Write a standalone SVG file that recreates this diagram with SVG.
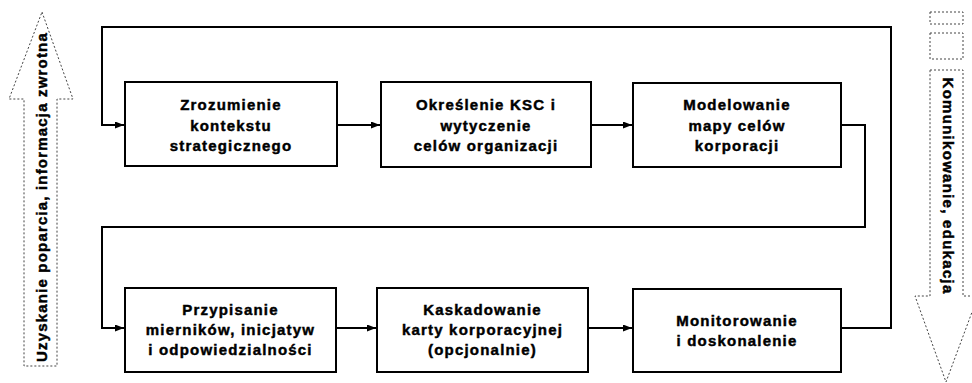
<svg xmlns="http://www.w3.org/2000/svg" width="972" height="383" viewBox="0 0 972 383">
  <defs>
    <style>
      .box { fill: #ffffff; stroke: #000000; stroke-width: 2; }
      .lbl { font-family: "Liberation Sans", Arial, sans-serif; font-weight: bold; font-size: 15px; letter-spacing: 1.2px; fill: #000000; stroke: #000000; stroke-width: 0.45; text-anchor: middle; }
      .conn { fill: none; stroke: #000000; stroke-width: 2; }
      .side { fill: none; stroke: #444444; stroke-width: 1; stroke-dasharray: 2 2; }
    </style>
    <marker id="arr" markerUnits="userSpaceOnUse" markerWidth="10" markerHeight="8" refX="9" refY="3.5" orient="auto">
      <path d="M0,0 L9,3.5 L0,7 z" fill="#000000"/>
    </marker>
  </defs>

  <rect width="972" height="383" fill="#ffffff"/>

  <!-- side arrows -->
  <g id="arrow-left">
    <polygon class="side" points="42,12 73,99 57,99 57,366 24,366 24,99 9,99"/>
    <text class="lbl" transform="translate(47,197) rotate(-90)" textLength="330" lengthAdjust="spacing">Uzyskanie poparcia, informacja zwrotna</text>
  </g>
  <g id="arrow-right">
    <rect class="side" x="930" y="12" width="33" height="12"/>
    <rect class="side" x="930" y="33" width="33" height="26"/>
    <polygon class="side" points="930,70 963,70 963,296 978,296 946,382 915,296 930,296"/>
    <text class="lbl" transform="translate(943,186) rotate(90)" textLength="217" lengthAdjust="spacing">Komunikowanie, edukacja</text>
  </g>

  <!-- connectors -->
  <g id="connectors">
    <path class="conn" d="M841,328 H891 V27 H102 V125 H124" marker-end="url(#arr)"/>
    <path class="conn" d="M337,125 H380" marker-end="url(#arr)"/>
    <path class="conn" d="M591,125 H632" marker-end="url(#arr)"/>
    <path class="conn" d="M841,125 H865 V227 H102 V328 H124" marker-end="url(#arr)"/>
    <path class="conn" d="M336,328 H376" marker-end="url(#arr)"/>
    <path class="conn" d="M588,328 H632" marker-end="url(#arr)"/>
  </g>

  <!-- nodes -->
  <g id="node1">
    <rect class="box" x="125" y="82" width="212" height="84"/>
    <text class="lbl" x="231" y="110">Zrozumienie</text>
    <text class="lbl" x="231" y="130.5">kontekstu</text>
    <text class="lbl" x="231" y="151">strategicznego</text>
  </g>
  <g id="node2">
    <rect class="box" x="381" y="82" width="210" height="85"/>
    <text class="lbl" x="486" y="110">Określenie KSC i</text>
    <text class="lbl" x="486" y="130.5">wytyczenie</text>
    <text class="lbl" x="486" y="151">celów organizacji</text>
  </g>
  <g id="node3">
    <rect class="box" x="633" y="83" width="208" height="84"/>
    <text class="lbl" x="737" y="110">Modelowanie</text>
    <text class="lbl" x="737" y="130.5">mapy celów</text>
    <text class="lbl" x="737" y="151">korporacji</text>
  </g>
  <g id="node4">
    <rect class="box" x="125" y="288" width="211" height="84"/>
    <text class="lbl" x="230.5" y="315">Przypisanie</text>
    <text class="lbl" x="230.5" y="335">mierników, inicjatyw</text>
    <text class="lbl" x="230.5" y="355">i odpowiedzialności</text>
  </g>
  <g id="node5">
    <rect class="box" x="377" y="288" width="211" height="84"/>
    <text class="lbl" x="482.5" y="315">Kaskadowanie</text>
    <text class="lbl" x="482.5" y="335">karty korporacyjnej</text>
    <text class="lbl" x="482.5" y="355">(opcjonalnie)</text>
  </g>
  <g id="node6">
    <rect class="box" x="633" y="289" width="208" height="83"/>
    <text class="lbl" x="737" y="326">Monitorowanie</text>
    <text class="lbl" x="737" y="346">i doskonalenie</text>
  </g>
</svg>
